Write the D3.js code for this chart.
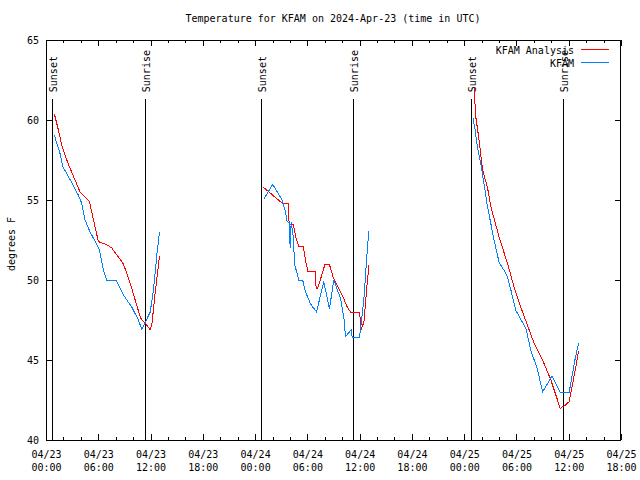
<!DOCTYPE html>
<html>
<head>
<meta charset="utf-8">
<script src="https://cdn.jsdelivr.net/npm/d3@7"></script>
<style>
body { margin: 0; background: #fff; }
text { font-family: "DejaVu Sans Mono", monospace; font-size: 10px; fill: #000; }
</style>
</head>
<body>
<svg id="chart" width="640" height="480"></svg>
<script>
// Data (hours after 2024-04-23 00:00 UTC, degrees F)
var anaHours = [0.95, 1.41, 1.87, 2.56, 3.91, 4.48, 4.98, 6.01, 6.98, 7.55, 8.89, 9.66, 10.81, 11.0, 11.38, 11.96, 12.15, 12.53, 13.03,
    24.95, 27.1, 27.86, 27.9, 28.38, 28.66, 29.03, 29.52, 29.78, 30.05, 30.94, 31.0, 31.2, 32.0, 32.55, 33.0, 34.0, 34.58, 34.96, 35.99, 36.18, 36.5, 36.8, 37.07,
    49.13, 49.33, 49.71, 50.1, 50.67, 51.05, 52.0, 52.97, 53.81, 54.5, 56.03, 57.0, 57.95, 58.53, 59.02, 59.67, 60.05, 60.44, 60.82, 61.13];
var anaTemps = [60.4, 59.4, 58.3, 57.25, 55.5, 55.2, 54.9, 52.4, 52.2, 52.0, 51.0, 49.8, 47.7, 47.5, 47.3, 46.9, 47.2, 49.2, 51.5,
    55.8, 54.8, 54.8, 53.5, 53.5, 52.7, 52.1, 52.1, 51.25, 50.56, 50.56, 49.5, 49.5, 50.94, 50.94, 50.1, 49.06, 48.3, 48.0, 48.0, 46.9, 47.4, 49.4, 50.94,
    62.0, 60.2, 58.75, 56.9, 55.8, 54.6, 52.7, 51.04, 49.4, 48.3, 46.04, 45.0, 43.75, 42.8, 41.98, 42.2, 42.4, 43.5, 44.6, 45.56];

var obsHours = [0.95, 1.61, 1.92, 3.14, 3.71, 4.1, 4.48, 5.06, 5.55, 6.13, 6.59, 6.98, 8.05, 8.89, 9.85, 10.61, 11.0, 11.96, 12.34, 12.73, 13.03,
    24.99, 26.02, 27.1, 27.48, 27.68, 27.94, 28.02, 28.14, 28.36, 28.55, 28.83, 29.01, 29.46, 29.78, 30.36, 31.05, 31.88, 32.54, 33.03, 33.8, 34.18, 34.38, 35.04, 35.15, 35.99, 36.48, 36.88, 37.06,
    49.02, 49.25, 49.52, 49.9, 50.28, 50.67, 51.43, 52.01, 52.58, 52.97, 53.35, 53.93, 55.08, 55.65, 56.42, 57.0, 58.07, 59.02, 60.05, 60.37, 60.71, 61.14];
var obsTemps = [59.06, 57.9, 57.1, 55.9, 55.3, 54.8, 53.75, 53.0, 52.5, 51.9, 50.6, 50.0, 50.0, 49.06, 48.3, 47.5, 46.9, 48.0, 49.4, 51.6, 53.0,
    55.04, 55.98, 55.0, 54.27, 53.64, 53.6, 52.0, 53.6, 52.8, 50.94, 50.4, 50.0, 50.0, 49.27, 48.5, 48.0, 49.9, 48.2, 50.0, 48.85, 47.7, 46.46, 46.9, 46.4, 46.4, 48.75, 51.9, 53.06,
    60.1, 59.4, 58.3, 57.3, 56.0, 54.6, 52.5, 51.1, 50.6, 50.2, 49.4, 48.1, 46.98, 45.6, 44.4, 43.0, 44.0, 42.98, 42.98, 43.96, 45.0, 46.08];

var sunsetHours = [0.77, 24.78, 48.79];
var sunriseHours = [11.42, 35.34, 59.37];

var seriesNames = ["KFAM Analysis", "KFAM"];
var seriesColors = ["#ff0000", "#0080ff"];
var titleText = "Temperature for KFAM on 2024-Apr-23 (time in UTC)";

var t0 = Date.UTC(2024, 3, 23, 0);
var t1 = Date.UTC(2024, 3, 25, 18);
var toDate = function(h) { return new Date(t0 + h * 3600000); };

var svg = d3.select("#chart");
var pLeft = 46, pRight = 621, pTop = 40, pBottom = 440;

var x = d3.scaleUtc().domain([t0, t1]).range([pLeft, pRight]);
var y = d3.scaleLinear().domain([40, 65]).range([pBottom, pTop]);

svg.append("rect").attr("width", 640).attr("height", 480).attr("fill", "#fff");

// ticks, all pointing inward, mirrored on top and right
var noLabel = function() { return ""; };
var axisStyle = function(g) {
    g.select(".domain").remove();
    g.selectAll("line").attr("stroke", "#000").attr("shape-rendering", "crispEdges");
};
svg.append("g").attr("transform", "translate(0," + pBottom + ")")
    .call(d3.axisBottom(x).ticks(d3.utcHour.every(2)).tickSize(-3).tickFormat(noLabel)).call(axisStyle);
svg.append("g").attr("transform", "translate(0," + pTop + ")")
    .call(d3.axisTop(x).ticks(d3.utcHour.every(2)).tickSize(-3).tickFormat(noLabel)).call(axisStyle);
svg.append("g").attr("transform", "translate(0," + pTop + ")")
    .call(d3.axisTop(x).ticks(d3.utcHour.every(6)).tickSize(-6).tickFormat(noLabel)).call(axisStyle);
svg.append("g").attr("transform", "translate(" + pRight + ",0)")
    .call(d3.axisRight(y).ticks(5).tickSize(-6).tickFormat(noLabel)).call(axisStyle);

var fmtDay = d3.utcFormat("%m/%d"), fmtHour = d3.utcFormat("%H:%M");
var gx = svg.append("g").attr("transform", "translate(0," + pBottom + ")")
    .call(d3.axisBottom(x).ticks(d3.utcHour.every(6)).tickSize(-6).tickFormat(fmtDay))
    .call(axisStyle);
gx.selectAll("text").each(function(d) {
    var t = d3.select(this);
    t.text(null).attr("font-family", null).attr("font-size", null).attr("dy", null);
    t.append("tspan").attr("x", 0).attr("y", 18).text(fmtDay(d));
    t.append("tspan").attr("x", 0).attr("y", 31).text(fmtHour(d));
});

var gy = svg.append("g").attr("transform", "translate(" + pLeft + ",0)")
    .call(d3.axisLeft(y).ticks(5).tickSize(-6).tickPadding(7))
    .call(axisStyle);
gy.selectAll("text").attr("font-family", null).attr("font-size", null);

// border
svg.append("rect")
    .attr("x", pLeft + 0.5).attr("y", pTop + 0.5)
    .attr("width", pRight - pLeft - 1).attr("height", pBottom - pTop)
    .attr("fill", "none").attr("stroke", "#000").attr("shape-rendering", "crispEdges");

// sunset / sunrise markers
var markTop = 61.3;
var marks = sunsetHours.map(function(h) { return { h: h, name: "Sunset" }; })
    .concat(sunriseHours.map(function(h) { return { h: h, name: "Sunrise" }; }));
marks.forEach(function(m) {
    var mx = Math.floor(x(toDate(m.h))) + 0.5;
    svg.append("line")
        .attr("x1", mx).attr("x2", mx)
        .attr("y1", y(markTop)).attr("y2", pBottom)
        .attr("stroke", "#000").attr("shape-rendering", "crispEdges");
    svg.append("text")
        .attr("transform", "translate(" + (mx + 4.5) + "," + (y(markTop) - 7) + ") rotate(-90)")
        .text(m.name);
});

// split a series where the time gap is large
var segments = function(hours, temps) {
    var out = [], cur = [];
    hours.forEach(function(h, i) {
        if (i > 0 && h - hours[i - 1] > 4) { out.push(cur); cur = []; }
        cur.push([toDate(h), temps[i]]);
    });
    out.push(cur);
    return out;
};

var line = d3.line().x(function(d) { return x(d[0]); }).y(function(d) { return y(d[1]); });

[[anaHours, anaTemps], [obsHours, obsTemps]].forEach(function(s, k) {
    svg.append("g").selectAll("path")
        .data(segments(s[0], s[1]))
        .enter().append("path")
        .attr("d", line)
        .attr("fill", "none")
        .attr("stroke", seriesColors[k])
        .attr("stroke-width", 1)
        .attr("shape-rendering", "crispEdges");
});

// title and y label
svg.append("text").attr("x", 333).attr("y", 22).attr("text-anchor", "middle").text(titleText);
svg.append("text").attr("transform", "translate(15,244) rotate(-90)")
    .attr("text-anchor", "middle").text("degrees F");

// legend
seriesNames.forEach(function(n, k) {
    var ly = 49.5 + k * 13;
    svg.append("text").attr("x", 574).attr("y", ly + 4).attr("text-anchor", "end").text(n);
    svg.append("line")
        .attr("x1", 581).attr("x2", 609).attr("y1", ly).attr("y2", ly)
        .attr("stroke", seriesColors[k]).attr("shape-rendering", "crispEdges");
});
</script>
</body>
</html>
